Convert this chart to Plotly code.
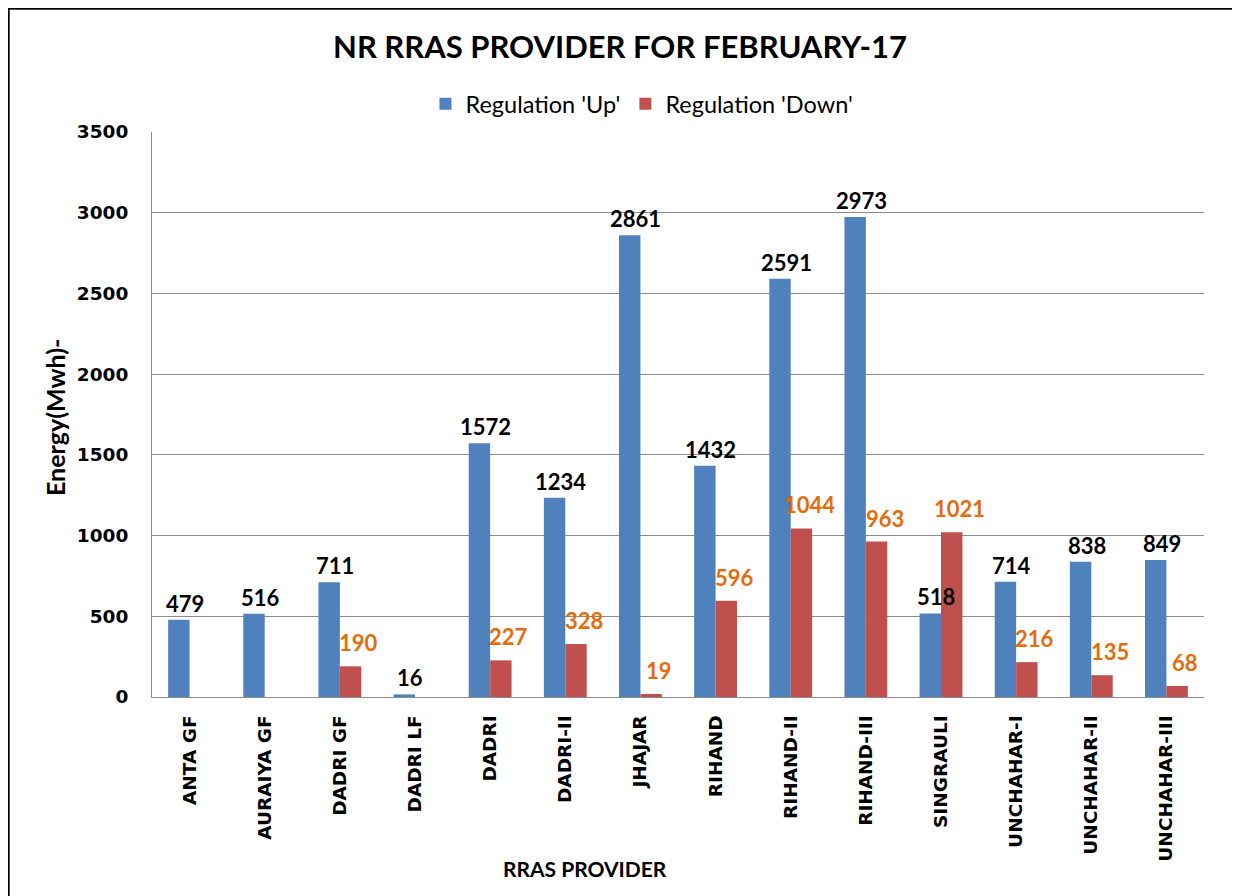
import plotly.graph_objects as go

categories = ["ANTA GF", "AURAIYA GF", "DADRI GF", "DADRI LF", "DADRI", "DADRI-II", "JHAJAR",
              "RIHAND", "RIHAND-II", "RIHAND-III", "SINGRAULI", "UNCHAHAR-I", "UNCHAHAR-II", "UNCHAHAR-III"]
reg_up = [479, 516, 711, 16, 1572, 1234, 2861, 1432, 2591, 2973, 518, 714, 838, 849]
reg_down = [None, None, 190, None, 227, 328, 19, 596, 1044, 963, 1021, 216, 135, 68]
y_ticks = [0, 500, 1000, 1500, 2000, 2500, 3000, 3500]

BLUE = "#4F81BD"
RED = "#C0504D"
ORANGE = "#E46C0A"
GRID = "#8C8C8C"

# page body has an 8px margin, so the figure is sized to fit inside the window
W, H = 1232, 888
L, R, T, B = 144, 36, 124, 199
pw, ph = W - L - R, H - T - B


def px(x):
    return (x - L) / pw


def py(y):
    return (T + ph - y) / ph


fig = go.Figure()
fig.add_trace(go.Bar(x=categories, y=reg_up, name="Regulation 'Up'", marker_color=BLUE,
                     marker_line_width=0))
fig.add_trace(go.Bar(x=categories, y=reg_down, name="Regulation 'Down'", marker_color=RED,
                     marker_line_width=0))

cat_w = pw / len(categories)
bar_w = cat_w * (1 - 0.43) / 2

annotations = []
for c, v in zip(categories, reg_up):
    annotations.append(dict(x=c, y=v, xref="x", yref="y", text=f"<b>{v}</b>", showarrow=False,
                            xshift=-bar_w / 2 + 6, yshift=1, yanchor="bottom",
                            font=dict(family="Lato", size=22, color="black")))
for c, v in zip(categories, reg_down):
    if v is None:
        continue
    annotations.append(dict(x=c, y=v, xref="x", yref="y", text=f"<b>{v}</b>", showarrow=False,
                            xshift=bar_w / 2 + 8, yshift=8, yanchor="bottom",
                            font=dict(family="Lato", size=22, color=ORANGE)))

annotations.append(dict(text="<b>RRAS PROVIDER</b>", xref="paper", yref="paper",
                        x=px(577), y=py(860), showarrow=False,
                        xanchor="center", yanchor="middle",
                        font=dict(family="Lato", size=21, color="black")))
annotations.append(dict(text="<b>Energy(Mwh)-</b>", xref="paper", yref="paper",
                        x=px(47), y=py(410), showarrow=False, textangle=-90,
                        xanchor="center", yanchor="middle",
                        font=dict(family="Lato", size=25, color="black")))

fig.update_layout(
    width=W, height=H,
    margin=dict(l=L, r=R, t=T, b=B, autoexpand=False),
    paper_bgcolor="white", plot_bgcolor="white",
    barmode="group", bargap=0.43, bargroupgap=0,
    title=dict(text="<b>NR RRAS PROVIDER FOR FEBRUARY-17</b>", x=612 / W, xanchor="center",
               y=1 - 39 / H, yanchor="middle", yref="container",
               font=dict(family="Lato", size=31, color="black")),
    legend=dict(orientation="h", x=px(634), xanchor="center", y=py(96),
                yanchor="middle", font=dict(family="Lato", size=23.5, color="black"),
                itemwidth=30, tracegroupgap=0, bgcolor="rgba(0,0,0,0)"),
    xaxis=dict(tickangle=-90, tickfont=dict(family="DejaVu Sans", size=18.5, color="black", weight="bold"),
               showline=True, linecolor=GRID, linewidth=1, ticks="", showgrid=False,
               ticklabelstandoff=10),
    yaxis=dict(range=[0, 3500], tickvals=y_ticks, ticktext=[str(t) for t in y_ticks],
               tickfont=dict(family="DejaVu Sans", size=18.5, color="black", weight="bold"),
               showline=True, linecolor=GRID, linewidth=1, showgrid=True, gridcolor=GRID,
               gridwidth=1, ticks="", ticklabelstandoff=19, zeroline=False),
    annotations=annotations,
    shapes=[
        dict(type="rect", xref="paper", yref="paper",
             x0=px(1.5), x1=px(1225), y0=py(H + 20), y1=py(1.5),
             line=dict(color="#9A9A9A", width=1), fillcolor="rgba(0,0,0,0)", layer="above"),
        dict(type="rect", xref="paper", yref="paper",
             x0=px(0), x1=px(1229.5), y0=py(H + 20), y1=py(0),
             line=dict(color="black", width=3), fillcolor="rgba(0,0,0,0)", layer="above"),
        dict(type="rect", xref="paper", yref="paper",
             x0=px(1227), x1=px(W + 5), y0=py(H + 20), y1=py(-5),
             line=dict(width=0), fillcolor="black", layer="above"),
    ],
)

fig.write_html("out.html")
